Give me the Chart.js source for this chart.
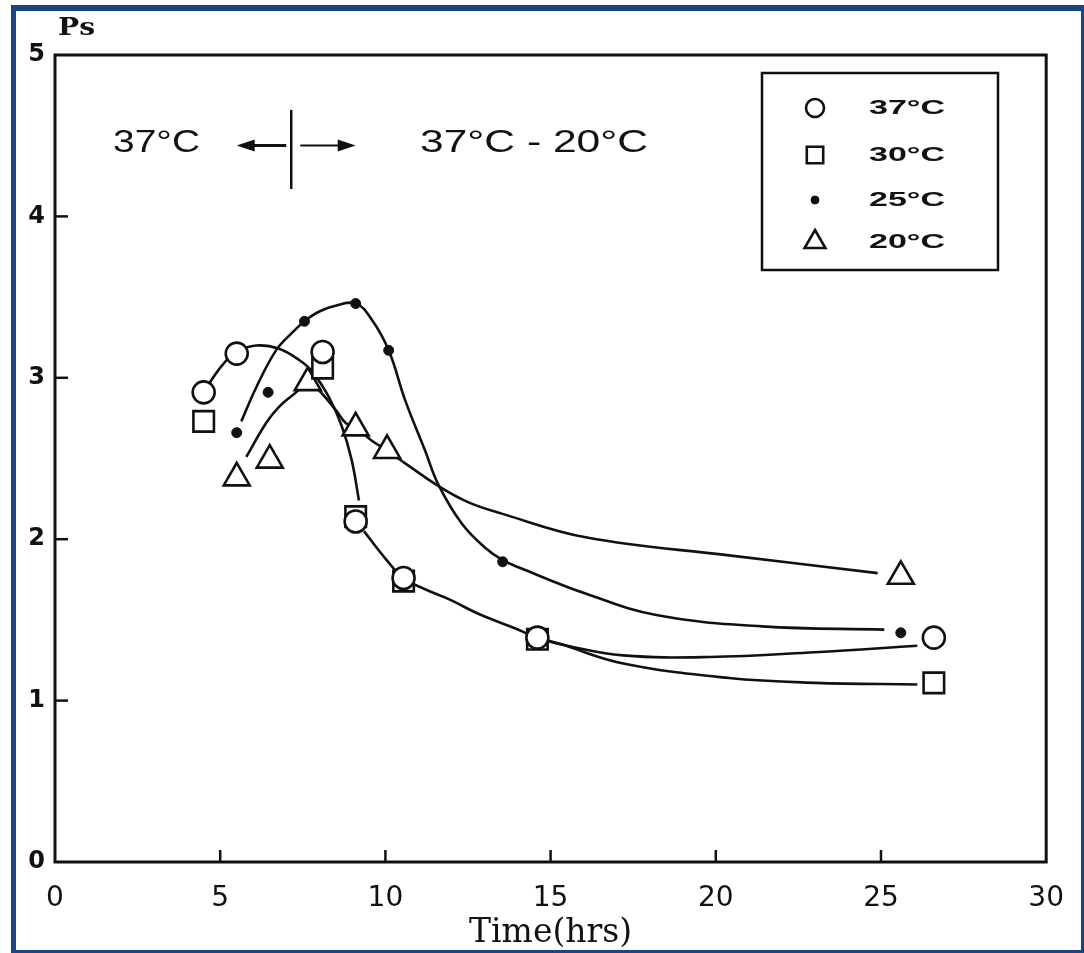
<!DOCTYPE html>
<html>
<head>
<meta charset="utf-8">
<title>Ps vs Time</title>
<script src="https://cdn.jsdelivr.net/npm/chart.js@4.4.0/dist/chart.umd.min.js"></script>
<style>
  html, body { margin: 0; padding: 0; background: #fff; }
  #wrap { position: relative; width: 1084px; height: 953px; }
  #frame { position: absolute; left: 11px; top: 5px; right: 0; bottom: 0; border-style: solid;
           border-color: #1a4584; border-width: 6px 3px 3px 5px; pointer-events: none; }
</style>
</head>
<body>
<div id="wrap">
  <canvas id="chart" width="1084" height="953"></canvas>
  <div id="frame"></div>
</div>
<script>
// legend labels
const temps = ['37°C', '30°C', '25°C', '20°C'];
const xTicks = [0, 5, 10, 15, 20, 25, 30];
const yTicks = [0, 1, 2, 3, 4, 5];

// measured points (time in hrs, Ps)
const t37 = [4.5, 5.5, 8.1, 9.1, 10.55, 14.6, 26.6];
const ps37 = [2.91, 3.15, 3.16, 2.11, 1.76, 1.39, 1.39];
const t30 = [4.5, 8.1, 9.1, 10.55, 14.6, 26.6];
const ps30 = [2.73, 3.06, 2.14, 1.74, 1.38, 1.11];
const t25 = [5.5, 6.45, 7.55, 9.1, 10.1, 13.55, 25.6];
const ps25 = [2.66, 2.91, 3.35, 3.46, 3.17, 1.86, 1.42];
const t20 = [5.5, 6.5, 7.65, 9.1, 10.05, 25.6];
const ps20 = [2.38, 2.49, 2.97, 2.69, 2.55, 1.77];

// hand drawn curves, read along the lines of the figure
const fitAT = [4.55, 5.07, 5.49, 6.09, 6.78, 7.39, 7.78, 8.29, 8.68, 8.98, 9.2];
const fitAP = [2.93, 3.08, 3.16, 3.2, 3.18, 3.11, 3.04, 2.88, 2.7, 2.49, 2.24];
const fitBT = [9.35, 10.0, 10.55, 11.2, 11.9, 12.9, 13.9, 14.6, 15.5, 17.2, 19.8, 23, 26.1];
const fitBP = [2.05, 1.88, 1.76, 1.69, 1.63, 1.53, 1.45, 1.39, 1.34, 1.28, 1.27, 1.3, 1.34];
const fitCT = [14.6, 15.3, 17.2, 20.4, 23, 26.1];
const fitCP = [1.39, 1.35, 1.23, 1.14, 1.11, 1.1];
const fit25T = [5.64, 6.09, 6.69, 7.18, 7.55, 7.9, 8.38, 9.1, 9.59, 10.1, 10.6, 11.2, 11.6, 12.3, 13.0, 13.55, 14.1, 16.1, 18.2, 21.4, 25.1];
const fit25P = [2.73, 2.94, 3.17, 3.28, 3.35, 3.4, 3.44, 3.46, 3.36, 3.17, 2.86, 2.55, 2.34, 2.1, 1.95, 1.87, 1.82, 1.66, 1.53, 1.46, 1.44];
const fit20T = [5.79, 6.39, 6.78, 7.18, 7.65, 7.9, 8.5, 8.8, 9.1, 9.59, 10.05, 10.6, 11.6, 12.5, 13.5, 16.1, 20.4, 24.9];
const fit20P = [2.51, 2.72, 2.82, 2.89, 2.96, 2.94, 2.8, 2.72, 2.69, 2.61, 2.55, 2.47, 2.33, 2.23, 2.16, 2.01, 1.9, 1.79];

function pts(xs, ys) {
    return xs.map((x, i) => ({ x: x, y: ys[i] }));
}

function curve(xs, ys) {
    return {
        type: 'line',
        data: pts(xs, ys),
        borderColor: '#111',
        borderWidth: 2.6,
        pointRadius: 0,
        tension: 0.4,
        fill: false,
        order: 2
    };
}

const markerStyles = [
    { pointStyle: 'circle', pointRadius: 11, pointBackgroundColor: '#fff', pointBorderWidth: 2.6 },
    { pointStyle: 'rect', pointRadius: 14.5, pointBackgroundColor: '#fff', pointBorderWidth: 2.6 },
    { pointStyle: 'circle', pointRadius: 5, pointBackgroundColor: '#111', pointBorderWidth: 1 },
    { pointStyle: 'triangle', pointRadius: 15, pointBackgroundColor: '#fff', pointBorderWidth: 2.6 }
];

function markers(i, xs, ys) {
    return Object.assign({
        type: 'scatter',
        label: temps[i],
        data: pts(xs, ys),
        pointBorderColor: '#111',
        showLine: false,
        order: 0
    }, markerStyles[i]);
}

// draws text squeezed/stretched to a given width (the scan is stretched sideways)
function stretchText(ctx, txt, x, y, w, font) {
    ctx.save();
    ctx.font = font;
    ctx.textBaseline = 'middle';
    ctx.textAlign = 'left';
    const m = ctx.measureText(txt).width;
    ctx.translate(x, y);
    ctx.scale(w / m, 1);
    ctx.fillText(txt, 0, 0);
    ctx.restore();
}

function arrow(ctx, x1, x2, y) {
    const dir = x2 > x1 ? 1 : -1;
    ctx.beginPath();
    ctx.moveTo(x1, y);
    ctx.lineTo(x2 - dir * 14, y);
    ctx.stroke();
    ctx.beginPath();
    ctx.moveTo(x2, y);
    ctx.lineTo(x2 - dir * 18, y - 6);
    ctx.lineTo(x2 - dir * 18, y + 6);
    ctx.closePath();
    ctx.fill();
}

const decorPlugin = {
    id: 'decor',
    afterDraw(chart) {
        const ctx = chart.ctx;
        const a = chart.chartArea;
        const xs = chart.scales.x, ys = chart.scales.y;
        ctx.save();
        ctx.strokeStyle = '#111';
        ctx.fillStyle = '#111';
        ctx.lineWidth = 3;
        ctx.strokeRect(a.left, a.top, a.right - a.left, a.bottom - a.top);

        // inward ticks
        ctx.lineWidth = 2.5;
        xTicks.slice(1, -1).forEach(v => {
            const px = xs.getPixelForValue(v);
            ctx.beginPath(); ctx.moveTo(px, a.bottom); ctx.lineTo(px, a.bottom - 12); ctx.stroke();
        });
        yTicks.slice(1, -1).forEach(v => {
            const py = ys.getPixelForValue(v);
            ctx.beginPath(); ctx.moveTo(a.left, py); ctx.lineTo(a.left + 13, py); ctx.stroke();
        });

        // axis name
        stretchText(ctx, 'Ps', 58, 29, 37, 'bold 24px "DejaVu Serif"');

        // phase annotation
        const ay = ys.getPixelForValue(4.44);
        const mx = xs.getPixelForValue(7.15);
        stretchText(ctx, '37°C', 113, ay - 2, 87, '31px "Liberation Sans"');
        stretchText(ctx, '37°C - 20°C', 420, ay - 2, 228, '31px "Liberation Sans"');
        ctx.lineWidth = 2.5;
        ctx.beginPath();
        ctx.moveTo(mx, ys.getPixelForValue(4.66));
        ctx.lineTo(mx, ys.getPixelForValue(4.17));
        ctx.stroke();
        ctx.lineWidth = 3;
        arrow(ctx, mx - 5, xs.getPixelForValue(5.5), ay);
        ctx.lineWidth = 2;
        arrow(ctx, mx + 9, xs.getPixelForValue(9.1), ay);

        // legend box
        ctx.lineWidth = 2.5;
        ctx.strokeRect(762, 73, 236, 197);
        const rows = [108, 155, 200, 242];
        const sets = chart.data.datasets.filter(d => d.type === 'scatter');
        sets.forEach((d, i) => {
            ctx.fillStyle = d.pointBackgroundColor;
            ctx.strokeStyle = '#111';
            ctx.lineWidth = d.pointBorderWidth;
            const r = d.pointStyle === 'circle' && d.pointRadius > 6 ? 9 : d.pointRadius * 0.8;
            Chart.helpers.drawPoint(ctx, { pointStyle: d.pointStyle, radius: r, rotation: 0, borderWidth: d.pointBorderWidth }, 815, rows[i]);
            ctx.fillStyle = '#111';
            stretchText(ctx, d.label, 869, rows[i], 76, 'bold 21px "Liberation Sans"');
        });
        ctx.restore();
    }
};

new Chart(document.getElementById('chart'), {
    data: {
        datasets: [
            markers(0, t37, ps37),
            markers(1, t30, ps30),
            markers(2, t25, ps25),
            markers(3, t20, ps20),
            curve(fitAT, fitAP),
            curve(fitBT, fitBP),
            curve(fitCT, fitCP),
            curve(fit25T, fit25P),
            curve(fit20T, fit20P)
        ]
    },
    options: {
        responsive: false,
        animation: false,
        layout: { padding: { top: 55, right: 34, left: 0, bottom: 0 } },
        plugins: {
            legend: { display: false },
            tooltip: { enabled: false }
        },
        scales: {
            x: {
                type: 'linear',
                min: 0,
                max: 30,
                afterBuildTicks: s => { s.ticks = xTicks.map(v => ({ value: v })); },
                ticks: { color: '#111', font: { family: 'DejaVu Sans', size: 28 }, padding: 20, maxRotation: 0 },
                grid: { display: false, drawTicks: false },
                border: { display: false },
                title: {
                    display: true,
                    text: 'Time(hrs)',
                    color: '#111',
                    font: { family: 'DejaVu Serif', size: 33 },
                    padding: 0
                },
                afterFit: s => { s.height = 91; }
            },
            y: {
                type: 'linear',
                min: 0,
                max: 5,
                afterBuildTicks: s => { s.ticks = yTicks.map(v => ({ value: v })); },
                ticks: { color: '#111', font: { family: 'DejaVu Sans', size: 24, weight: 'bold' }, padding: 10 },
                grid: { display: false, drawTicks: false },
                border: { display: false },
                afterFit: s => { s.width = 55; }
            }
        }
    },
    plugins: [decorPlugin]
});
</script>
</body>
</html>
